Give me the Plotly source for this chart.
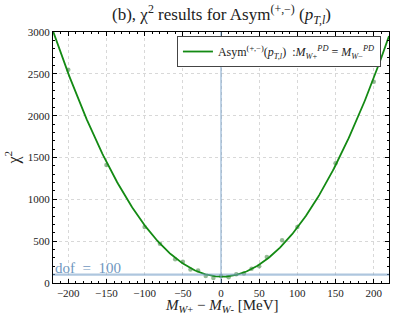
import numpy as np
import plotly.graph_objects as go

# data
mass_diff = [-200, -150, -100, -80, -60, -50, -40, -30, -20, -10, 0, 10, 20, 30, 40, 50, 60, 80, 100, 150, 200]
chi2 = [2550, 1410, 670, 470, 285, 255, 160, 150, 85, 60, 85, 70, 105, 115, 170, 200, 310, 510, 670, 1430, 2405]
dof = 100
x_ticks = [-200, -150, -100, -50, 0, 50, 100, 150, 200]
y_ticks = [0, 500, 1000, 1500, 2000, 2500, 3000]

coef = np.polyfit(mass_diff, chi2, 2)
xf = np.linspace(-220, 220, 300)
yf = np.polyval(coef, xf)

FONT = "Liberation Serif"
fig = go.Figure()
fig.add_trace(go.Scatter(x=mass_diff, y=chi2, mode="markers",
                         marker=dict(color="rgba(80,140,80,0.6)", size=4.5),
                         showlegend=False, hoverinfo="skip"))
fig.add_trace(go.Scatter(x=xf, y=yf, mode="lines",
                         line=dict(color="#138a13", width=1.8),
                         name="Asym<sup>(+,−)</sup>(<i>p<sub>T,l</sub></i>)  :<i>M</i><sub><i>W</i>+</sub><sup><i>PD</i></sup> = <i>M</i><sub><i>W</i>−</sub><sup><i>PD</i></sup>"))
fig.add_hline(y=dof, line=dict(color="rgba(120,160,200,0.6)", width=2.2))
fig.add_vline(x=0, line=dict(color="rgba(120,160,200,0.8)", width=1.2))
fig.add_annotation(x=-220, y=dof, xanchor="left", yanchor="bottom", yshift=-3,
                   text="dof  =  100", showarrow=False,
                   font=dict(family=FONT, size=15, color="#6f97c0"))
# axis titles
fig.add_annotation(xref="paper", yref="paper", x=0.5, y=0, yshift=-12, yanchor="top",
                   text="<i>M</i><sub><i>W</i>+</sub> − <i>M</i><sub><i>W</i>-</sub> [MeV]",
                   showarrow=False, font=dict(family=FONT, size=15, color="#222"))
fig.add_annotation(xref="paper", yref="paper", x=0, y=0.5, xshift=-40, xanchor="center",
                   textangle=-90, text="χ<sup>2</sup>",
                   showarrow=False, font=dict(family=FONT, size=16, color="#222"))
# title
fig.add_annotation(xref="paper", yref="paper", x=0.5, y=1, yshift=3, yanchor="bottom",
                   text="(b), χ<sup>2</sup> results for Asym<sup>(+,−)</sup> (<i>p<sub>T,l</sub></i>)",
                   showarrow=False, font=dict(family=FONT, size=17, color="#222"))

axis_common = dict(showline=True, linecolor="black", linewidth=1, mirror="allticks",
                   ticks="inside", ticklen=4, tickcolor="black", automargin=False,
                   showgrid=True, gridcolor="#d8d8d8", griddash="dot", gridwidth=1,
                   zeroline=False, tickfont=dict(family=FONT, size=11, color="#222"))
fig.update_xaxes(range=[-220, 220], tickvals=x_ticks,
                 ticktext=[str(v).replace("-", "−") for v in x_ticks],
                 minor=dict(dtick=10, ticks="inside", ticklen=2, tickcolor="black", showgrid=False),
                 **axis_common)
fig.update_yaxes(range=[0, 3000], tickvals=y_ticks,
                 minor=dict(dtick=100, ticks="inside", ticklen=2, tickcolor="black", showgrid=False),
                 **axis_common)
fig.update_layout(
    width=405, height=315,
    margin=dict(l=53, r=16, t=32, b=32),
    paper_bgcolor="white", plot_bgcolor="white",
    legend=dict(x=0.976, y=0.984, xanchor="right", yanchor="top",
                bordercolor="#444", borderwidth=1, bgcolor="white",
                font=dict(family=FONT, size=12, color="#222"),
                itemwidth=30, tracegroupgap=0),
    showlegend=True,
)
fig.write_html("out.html", config={"displayModeBar": False},
               post_script="document.body.style.margin='0';document.body.style.overflow='hidden';")
